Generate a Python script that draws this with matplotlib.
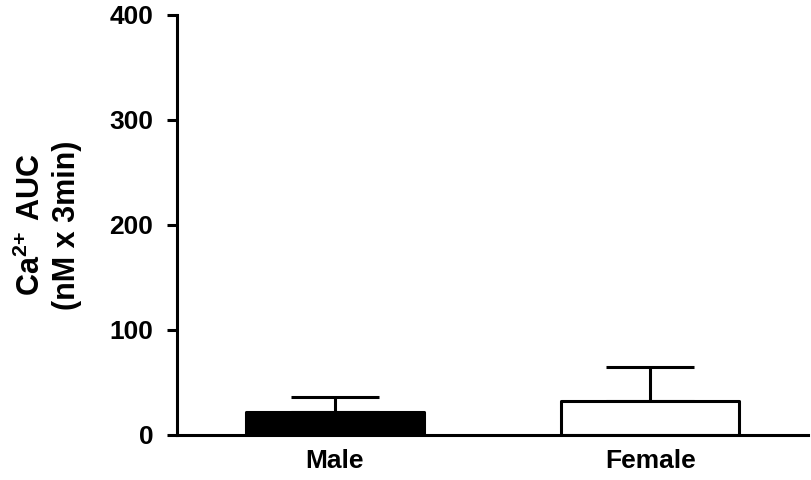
import matplotlib as mpl
import matplotlib.pyplot as plt

mpl.rcParams['font.family']      = 'Liberation Sans'
mpl.rcParams['font.weight']      = 'bold'
mpl.rcParams['font.size']        = 19.0
mpl.rcParams['axes.labelweight'] = 'bold'
mpl.rcParams['mathtext.fontset'] = 'custom'
mpl.rcParams['mathtext.rm']      = 'Liberation Sans:bold'
mpl.rcParams['mathtext.bf']      = 'Liberation Sans:bold'
mpl.rcParams['mathtext.default'] = 'bf'

# Data.
groups = ['Male', 'Female']
means  = [22, 32]
sems   = [14, 33]
fills  = ['black', 'white']
yticks = [0, 100, 200, 300, 400]

lw = 2.2

fig = plt.figure(figsize=(8.12, 4.8), dpi=100)
ax = fig.add_axes([0.218, 0.094, 0.777, 0.875])

x = list(range(len(groups)))
ax.errorbar(x, means, yerr=[[0] * len(sems), sems], fmt='none', ecolor='black',
            elinewidth=lw, capsize=32, capthick=lw, zorder=1)
for xi, m, c in zip(x, means, fills):
    ax.bar(xi, m, width=0.565, color=c, edgecolor='black', linewidth=lw,
           joinstyle='round', zorder=2)

ax.set_xlim(-0.5, 1.5)
ax.set_ylim(0, 400)
ax.set_yticks(yticks)
ax.set_xticks(x)
ax.set_xticklabels(groups)
ax.tick_params(axis='y', length=7, width=lw, pad=10)
ax.tick_params(axis='x', length=0, pad=10)
for side in ['top', 'right']:
    ax.spines[side].set_visible(False)
for side in ['left', 'bottom']:
    ax.spines[side].set_linewidth(lw)

ax.set_ylabel(r'$\mathbf{Ca^{2{+}}\ AUC}$' + '\n(nM x 3min)', linespacing=1.2,
              fontweight='bold', fontsize=22)
ax.yaxis.set_label_coords(-0.1506, 0.5)

plt.savefig('out.png', dpi=100)
